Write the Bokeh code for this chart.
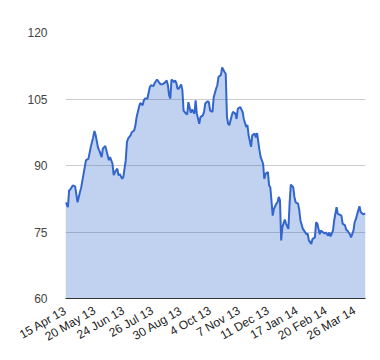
import math
from bokeh.plotting import figure
from bokeh.models import ColumnDataSource, FixedTicker, Range1d
from bokeh.embed import file_html
from bokeh.resources import INLINE

# trading-day index and closing value
day = [0, 2, 3, 4, 6, 8, 10, 12, 13, 15, 17, 19, 21, 23, 24, 25, 27, 28, 30, 31,
       33, 34, 36, 37, 39, 40, 41, 43, 44, 45, 47, 48, 50, 51, 52, 54, 55, 57, 58, 59,
       61, 62, 64, 65, 66, 68, 70, 71, 73, 74, 76, 78, 79, 81, 83, 84, 85, 86, 87, 88,
       90, 91, 92, 93, 94, 96, 97, 98, 100, 101, 102, 104, 105, 107, 108, 109, 111, 112, 114, 115,
       116, 118, 119, 120, 122, 123, 125, 126, 127, 129, 130, 132, 133, 134, 135, 136, 138, 139, 141, 142,
       143, 145, 147, 148, 150, 151, 152, 154, 155, 157, 158, 159, 161, 162, 164, 165, 166, 168, 169, 170,
       172, 173, 175, 176, 177, 178, 179, 180, 182, 183, 185, 186, 187, 189, 190, 191, 193, 194, 195, 197,
       198, 200, 201, 202, 204, 205, 207, 208, 209, 211, 212, 214, 215, 216, 218, 219, 220, 222, 223, 225,
       226, 227, 229, 230, 232, 233, 234, 236, 237, 239, 240, 241, 243, 244, 245, 247, 248, 249]
price = [81.7, 80.6, 84.4, 84.6, 85.5, 85.3, 81.7, 84.0, 85.0, 88.1, 91.2, 91.5, 94.2, 96.4, 97.8, 96.9, 94.0, 93.4, 91.9, 93.8,
         94.4, 93.4, 91.2, 91.9, 90.4, 87.8, 88.5, 89.3, 87.8, 88.1, 87.0, 87.4, 91.2, 95.3, 96.1, 96.8, 97.5, 97.9, 99.0, 100.9,
         103.2, 104.1, 103.6, 104.7, 105.1, 105.1, 107.7, 108.1, 107.9, 108.6, 109.4, 108.6, 108.3, 108.4, 108.8, 109.2, 108.1, 105.8, 105.1, 109.4,
         108.8, 109.2, 108.6, 107.3, 107.3, 108.3, 107.0, 102.4, 101.7, 101.5, 104.3, 101.9, 102.6, 101.7, 104.7, 101.7, 99.4, 100.9, 101.3, 102.1,
         104.0, 104.5, 104.3, 102.4, 102.1, 105.4, 107.3, 108.1, 110.0, 110.4, 112.1, 111.1, 110.7, 101.0, 99.4, 99.1, 101.3, 102.1, 101.7, 100.5,
         102.8, 103.2, 102.1, 100.5, 98.7, 99.1, 96.8, 94.2, 96.8, 97.2, 96.3, 97.3, 93.4, 91.9, 90.4, 87.0, 88.1, 88.5, 85.5, 85.1,
         78.7, 80.2, 81.4, 81.7, 82.9, 82.2, 73.1, 76.1, 77.8, 76.9, 75.7, 81.4, 85.7, 85.1, 82.9, 81.7, 81.4, 80.0, 77.6, 75.7,
         75.3, 74.5, 74.6, 73.1, 72.3, 73.4, 73.8, 77.2, 76.9, 74.5, 75.3, 74.9, 74.7, 74.9, 74.2, 74.9, 74.0, 75.3, 77.6, 80.6,
         79.1, 79.0, 78.7, 76.9, 76.5, 75.5, 75.3, 74.5, 73.8, 75.3, 77.2, 77.9, 79.9, 80.8, 79.5, 79.0, 79.1, 79.2]

tick_days = [0, 24, 48, 72, 96, 120, 144, 168, 192, 216, 240]
tick_labels = ["15 Apr 13", "20 May 13", "24 Jun 13", "26 Jul 13", "30 Aug 13", "4 Oct 13",
               "7 Nov 13", "11 Dec 13", "17 Jan 14", "20 Feb 14", "26 Mar 14"]
y_ticks = [60, 75, 90, 105, 120]

source = ColumnDataSource(data=dict(day=day, price=price, base=[60] * len(day)))

p = figure(frame_width=300, frame_height=266, output_backend="svg", toolbar_location=None,
           x_range=Range1d(day[0], day[-1]), y_range=Range1d(60, 120),
           min_border_left=65, min_border_right=7, min_border_top=32, min_border_bottom=54)
p.outline_line_color = None
p.background_fill_color = "white"

p.varea(x="day", y1="base", y2="price", source=source, fill_color="#3366cc", fill_alpha=0.3)
p.line(x="day", y="price", source=source, line_color="#3366cc", line_width=2)

p.xgrid.grid_line_color = None
p.ygrid.grid_line_color = "#cccccc"
p.ygrid.ticker = FixedTicker(ticks=y_ticks)

p.yaxis.ticker = FixedTicker(ticks=y_ticks)
p.yaxis.axis_line_color = None
p.yaxis.major_tick_line_color = None
p.yaxis.minor_tick_line_color = None
p.yaxis.major_label_standoff = 12
p.yaxis.major_label_text_font = "Liberation Sans"
p.yaxis.major_label_text_font_size = "12px"
p.yaxis.major_label_text_color = "#444444"

p.xaxis.ticker = FixedTicker(ticks=tick_days)
p.xaxis.major_label_overrides = {d: lab for d, lab in zip(tick_days, tick_labels)}
p.xaxis.axis_line_color = "#333333"
p.xaxis.axis_line_width = 1
p.xaxis.major_tick_line_color = None
p.xaxis.minor_tick_line_color = None
p.xaxis.major_label_orientation = math.pi / 6
p.xaxis.major_label_standoff = 5
p.xaxis.major_label_text_font = "Liberation Sans"
p.xaxis.major_label_text_font_size = "12px"
p.xaxis.major_label_text_color = "#222222"

open("out.html", "w").write(file_html(p, INLINE))
